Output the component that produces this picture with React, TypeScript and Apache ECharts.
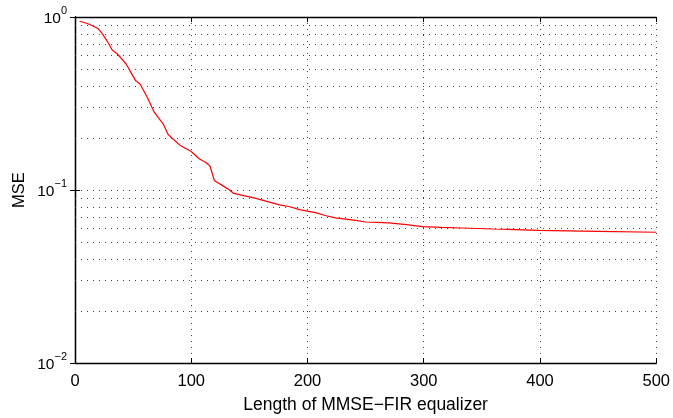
import React, { useEffect, useRef } from "react";
import * as echarts from "echarts";

const xValues = [4, 10, 15, 20, 23, 28, 32, 36, 39, 44, 48, 52, 56, 62, 68, 72, 76, 80, 85, 91, 100, 107, 112, 116, 120, 127, 133, 136, 144, 154, 165, 176, 185, 193, 207, 216, 224, 240, 250, 260, 270, 285, 299, 315, 333, 360, 399, 450, 500];
const mseValues = [0.945, 0.92, 0.89, 0.855, 0.81, 0.72, 0.645, 0.615, 0.585, 0.535, 0.48, 0.43, 0.41, 0.345, 0.283, 0.26, 0.24, 0.21, 0.195, 0.18, 0.167, 0.151, 0.145, 0.138, 0.113, 0.106, 0.1, 0.096, 0.093, 0.09, 0.086, 0.082, 0.08, 0.077, 0.074, 0.071, 0.069, 0.067, 0.0653, 0.065, 0.0645, 0.063, 0.0614, 0.0608, 0.0603, 0.0595, 0.0585, 0.0577, 0.057];
const minorGridValues = [0.02, 0.03, 0.04, 0.05, 0.06, 0.07, 0.08, 0.09, 0.2, 0.3, 0.4, 0.5, 0.6, 0.7, 0.8, 0.9];
const xAxisTitle = "Length of MMSE\u2212FIR equalizer";
const yAxisTitle = "MSE";

const FONT = "Liberation Sans, Arial, Helvetica, sans-serif";
const dotted = { color: "#444", width: 1, type: [1, 5] as number[] };

export default function App() {
  const ref = useRef<HTMLDivElement>(null);
  useEffect(() => {
    if (!ref.current) return;
    const chart = echarts.init(ref.current, null, { renderer: "svg" });
    const data = xValues.map((x, i) => [x, mseValues[i]]);
    chart.setOption({
      animation: false,
      grid: { left: 75, right: 15, top: 17, bottom: 50, containLabel: false },
      xAxis: [
        {
          type: "value",
          min: 0,
          max: 500,
          interval: 100,
          name: xAxisTitle,
          nameLocation: "middle",
          nameGap: 32,
          nameTextStyle: { fontFamily: FONT, fontSize: 17.5, color: "#000" },
          axisLine: { show: true, lineStyle: { color: "#000", width: 1.3 } },
          axisTick: { show: true, inside: true, length: 5, lineStyle: { color: "#000" } },
          axisLabel: { fontFamily: FONT, fontSize: 16.5, color: "#000", margin: 8 },
          splitLine: { show: true, lineStyle: dotted },
        },
        {
          type: "value",
          position: "top",
          min: 0,
          max: 500,
          interval: 100,
          axisLine: { show: true, lineStyle: { color: "#000", width: 1.3 } },
          axisTick: { show: true, inside: true, length: 5, lineStyle: { color: "#000" } },
          axisLabel: { show: false },
          splitLine: { show: false },
        },
      ],
      yAxis: [
        {
          type: "log",
          logBase: 10,
          min: 0.01,
          max: 1,
          name: yAxisTitle,
          nameLocation: "middle",
          nameGap: 47,
          nameRotate: 90,
          nameTextStyle: { fontFamily: FONT, fontSize: 16.5, color: "#000" },
          axisLine: { show: true, lineStyle: { color: "#000", width: 1.3 } },
          axisTick: { show: true, inside: true, length: 5, lineStyle: { color: "#000" } },
          axisLabel: {
            margin: 8,
            formatter: (v: number) => {
              const e = Math.round(Math.log10(v));
              const s = e < 0 ? "\u2212" + -e : String(e);
              return `{b|10}{s|${s}}`;
            },
            rich: {
              b: { fontFamily: FONT, fontSize: 15.5, color: "#000" },
              s: { fontFamily: FONT, fontSize: 11, color: "#000", padding: [0, 0, 14, 0] },
            },
          },
          splitLine: { show: true, lineStyle: dotted },
        },
        {
          type: "log",
          logBase: 10,
          min: 0.01,
          max: 1,
          position: "right",
          axisLine: { show: true, lineStyle: { color: "#000", width: 1.3 } },
          axisTick: { show: true, inside: true, length: 5, lineStyle: { color: "#000" } },
          axisLabel: { show: false },
          splitLine: { show: false },
        },
      ],
      series: [
        {
          type: "line",
          data,
          xAxisIndex: 0,
          yAxisIndex: 0,
          showSymbol: false,
          symbol: "none",
          lineStyle: { color: "#ff0000", width: 1.2 },
          z: 5,
          markLine: {
            silent: true,
            symbol: ["none", "none"],
            label: { show: false },
            lineStyle: dotted,
            z: 1,
            data: minorGridValues.map((v) => ({ yAxis: v })),
          },
        },
      ],
    });
    return () => chart.dispose();
  }, []);
  return (
    <div
      ref={ref}
      style={{ position: "fixed", left: 0, top: 0, width: 673, height: 418, overflow: "hidden" }}
    />
  );
}
